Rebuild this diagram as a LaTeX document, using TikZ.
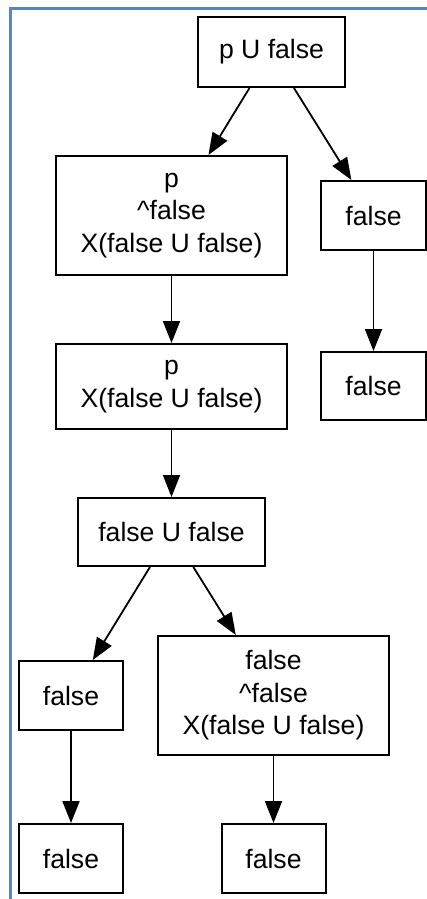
\documentclass[tikz,border=0pt]{standalone}
\usepackage{fontspec}
\setmainfont{Liberation Sans}
\usetikzlibrary{arrows.meta}
\definecolor{framecol}{RGB}{88,134,194}

\begin{document}
\begin{tikzpicture}[x=0.5pt,y=-0.5pt]
\tikzstyle{every node}+=[inner sep=0pt]
\tikzstyle{state}=[draw=black,line width=1pt,align=center,font=\fontsize{13.3pt}{16.3pt}\selectfont]
\tikzstyle{trans}=[draw=black,line width=0.9pt,-{Triangle[length=11pt,width=8.5pt]}]
\useasboundingbox (0,0) rectangle (427,899);
\draw [framecol,line width=1.5pt] (10.5,899) -- (10.5,8.5) -- (427,8.5);
\node [state,minimum width=73.5pt,minimum height=35pt] (pUf) at (271.5,52) {p U false};
\node [state,minimum width=115.5pt,minimum height=59.5pt] (pfX) at (171.5,215.5) {p\\\^{}false\\X(false U false)};
\node [state,minimum width=52.5pt,minimum height=34.5pt] (f1) at (373.5,215.5) {false};
\node [state,minimum width=52.5pt,minimum height=34pt] (f2) at (373.5,386) {false};
\node [state,minimum width=115.5pt,minimum height=42.5pt] (pX) at (171.5,386.5) {p\\X(false U false)};
\node [state,minimum width=93.5pt,minimum height=34pt] (fUf) at (171.5,532) {false U false};
\node [state,minimum width=52pt,minimum height=34.5pt] (f3) at (71,695.5) {false};
\node [state,minimum width=115.5pt,minimum height=59.5pt] (ffX) at (273.5,695.5) {false\\\^{}false\\X(false U false)};
\node [state,minimum width=52pt,minimum height=34.5pt] (f4) at (71,858.5) {false};
\node [state,minimum width=52pt,minimum height=34.5pt] (f5) at (273.5,858.5) {false};
\draw [trans] (pUf) -- (pfX);
\draw [trans] (pUf) -- (f1);
\draw [trans] (pfX) -- (pX);
\draw [trans] (f1) -- (f2);
\draw [trans] (pX) -- (fUf);
\draw [trans] (fUf) -- (f3);
\draw [trans] (fUf) -- (ffX);
\draw [trans] (f3) -- (f4);
\draw [trans] (ffX) -- (f5);
\end{tikzpicture}
\end{document}
